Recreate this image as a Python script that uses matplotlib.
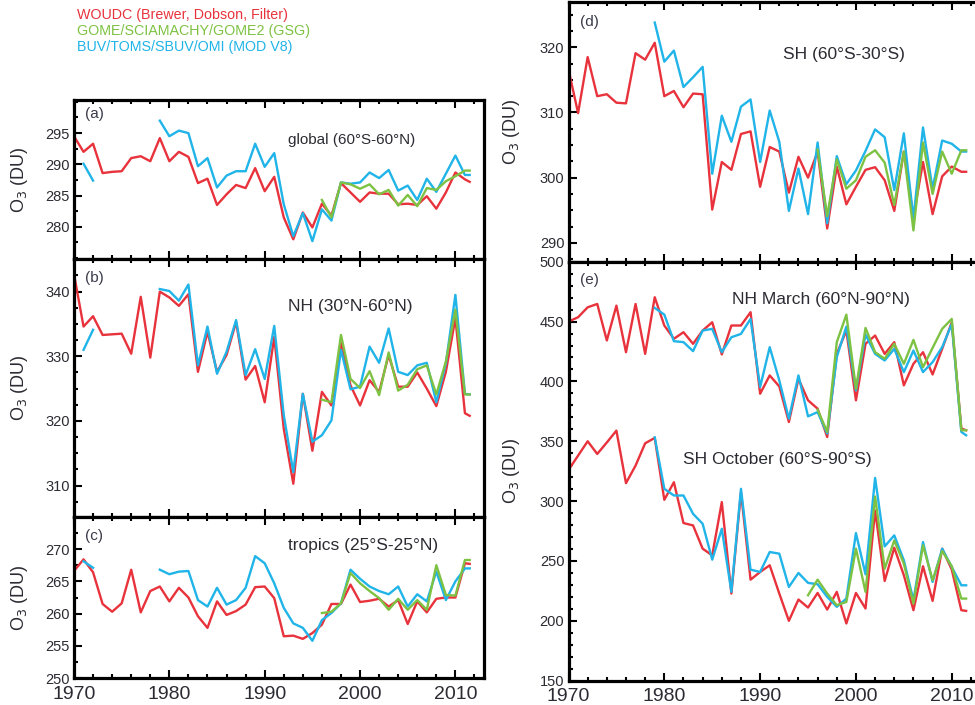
import matplotlib
matplotlib.use("Agg")
import matplotlib.pyplot as plt
import numpy as np
from matplotlib.ticker import MultipleLocator

plt.rcParams['font.family'] = ['Liberation Sans', 'DejaVu Sans']

nan = np.nan
years = np.append(np.arange(1970, 2012), 2011.5)

# (a) global 60S-60N
glob_woudc = [294.5, 292, 293.3, 288.6, 288.8, 288.9, 291, 291.3, 290.5, 294.2,
              290.5, 292, 291.2, 287, 287.7, 283.5, 285.2, 286.7, 286.2, 289.4,
              285.7, 288, 281.5, 278, 282.3, 279.9, 283.7, 281.8, 287, 285.5,
              284, 285.5, 285.3, 285.3, 283.6, 283.7, 283.5, 284.9, 282.9, 285.5,
              288.7, 287.6, 287.2]
glob_sbuv = [nan, 290.1, 287.4, nan, nan, nan, nan, nan, nan, 297,
             294.5, 295.4, 295, 289.7, 291, 286.3, 288.2, 288.9, 288.9, 293.3,
             289.6, 291.8, 283.6, 278.5, 282.2, 277.7, 282.8, 281, 287.1, 286.9,
             287.1, 288.7, 287.8, 289.1, 285.8, 286.6, 284.3, 287.7, 285.6, 288.5,
             291.4, 288.3, 288.3]
glob_gsg = [nan] * 26 + [284.3, 281.5, 287.1, 286.8,
                         286.1, 286.8, 285.2, 285.9, 283.4, 285.1, 283.3, 286.2, 285.9, 287.3,
                         288.1, 289, 289]

# (b) NH 30N-60N
nh_woudc = [342.7, 334.6, 336.2, 333.3, 333.4, 333.5, 330.4, 339.2, 329.8, 340,
            339.1, 337.8, 339.6, 327.6, 333.8, 327.6, 330.2, 335.3, 326.4, 328.5,
            322.9, 333, 318.8, 310.3, 324.2, 315.4, 324.5, 322.4, 332, 325.5,
            322.4, 326.3, 324.5, 330.2, 325.3, 325.3, 327.5, 325, 322.3, 327.6,
            335.9, 321.2, 320.8]
nh_sbuv = [nan, 331, 334.1, nan, nan, nan, nan, nan, nan, 340.4,
           340.1, 338.6, 341.1, 328.6, 334.6, 327.3, 330.7, 335.6, 327.1, 331.1,
           326.5, 334.7, 320.9, 312.1, 324.2, 316.8, 317.8, 320.1, 331, 324.9,
           325.3, 331.5, 329, 334.3, 327.6, 327.1, 328.6, 329, 322.9, 328.9,
           339.5, 324.2, 324.1]
nh_gsg = [nan] * 26 + [323.3, 322.9, 333.3, 326.5,
                       325.1, 327.7, 324, 330.6, 324.7, 325.6, 328, 328.6, 324.1, 329.2,
                       337.2, 324.1, 324.1]

# (c) tropics 25S-25N
tr_woudc = [266.6, 268.4, 266.4, 261.5, 260.3, 261.6, 266.8, 260.2, 263.5, 264.2,
            261.9, 264, 262.5, 259.6, 257.8, 261.9, 259.8, 260.4, 261.4, 264.1,
            264.2, 262.4, 256.5, 256.6, 256.1, 257, 258.3, 261.5, 261.5, 264.5,
            261.8, 262, 262.3, 261.1, 262.1, 258.4, 261.9, 260.2, 262.3, 262.5,
            262.5, 267.8, 267.7]
tr_sbuv = [nan, 268.1, 267.1, nan, nan, nan, nan, nan, nan, 266.8,
           266.1, 266.5, 266.6, 262.1, 261.1, 264, 261.4, 262.1, 264, 268.9,
           267.8, 264.7, 260.9, 258.5, 257.8, 255.8, 259, 260.1, 261.6, 266.8,
           265.4, 264.2, 263.5, 263, 264.2, 261.1, 263, 261.9, 266.5, 262.1,
           265, 267, 267]
tr_gsg = [nan] * 26 + [260.1, 260.3, 261.6, 266.3,
                       264.7, 263.5, 262.4, 260.6, 262.3, 260.6, 262.1, 260.6, 267.5, 262.9,
                       262.8, 268.3, 268.3]

# (d) SH 60S-30S
sh_woudc = [316.6, 309.9, 318.5, 312.5, 312.8, 311.5, 311.4, 319.1, 318.1, 320.7,
            312.5, 313.3, 310.8, 312.9, 312.8, 295.1, 302.4, 301.2, 306.7, 307.1,
            298.6, 304.7, 304, 297.7, 303.2, 300, 304, 292.2, 301.7, 295.9,
            298.6, 301.2, 301.6, 299.6, 294.9, 304, 294, 302.4, 294.4, 300.2,
            301.7, 300.9, 300.9]
sh_sbuv = [nan, nan, nan, nan, nan, nan, nan, nan, nan, 323.8,
           317.8, 319.5, 313.9, 315.4, 317, 300.6, 309.5, 305.5, 310.9, 312,
           302.4, 310.3, 305.5, 294.9, 301.4, 294.4, 305.4, 293, 303.3, 299,
           301.1, 304.1, 307.4, 306.2, 298.1, 306.8, 293.7, 307.7, 298.3, 305.7,
           305.2, 304, 304]
sh_gsg = [nan] * 26 + [304.3, 294.1, 302.8, 298.3,
                       299.6, 303.2, 304.2, 302.3, 295.8, 304, 291.9, 305.4, 297.5, 304,
                       300.6, 304.2, 304.2]

# (e) NH March 60N-90N
mar_woudc = [450, 453.6, 461.9, 464.7, 434.2, 463.3, 424.4, 464.7, 423, 470.3,
             446.7, 435.6, 441.1, 431.4, 442.5, 449.4, 422.5, 446.7, 446.7, 457.8,
             389.7, 405, 395.8, 366.1, 402.2, 384.2, 377.2, 353.6, 423, 442.5,
             384.2, 431.4, 438.3, 423, 432.8, 396.7, 414.7, 424.4, 405.8, 427.2,
             449.4, 360.6, 359.2]
mar_sbuv = [nan, nan, nan, nan, nan, nan, nan, nan, nan, 461.4,
            455.8, 433.6, 432.8, 425.3, 442.5, 443.9, 424.4, 436.9, 439.7, 452.2,
            395.3, 428.6, 400.8, 368.9, 405, 370.8, 374.4, 356.4, 420.3, 445.8,
            392.5, 439.2, 423, 417.5, 427.2, 407.8, 425.8, 407.8, 416.1, 428.6,
            448, 357.8, 355]
mar_gsg = [nan] * 26 + [376.4, 357.8, 432.8, 455.8,
                        393.9, 444.7, 424.4, 418.9, 431.4, 414.7, 434.7, 411.9, 428, 443.9,
                        452.2, 359.2, 359.2]

# (e) SH October 60S-90S
oct_woudc = [326.1, 338, 350, 339.4, 349, 358.9, 315, 329.7, 348.3, 352.8,
             301.1, 315.8, 281.7, 279.7, 260.3, 254.7, 299.2, 222.8, 307.5, 234.4,
             240.8, 246.4, 222.8, 200, 217.8, 211.1, 223.3, 209.4, 224.2, 197.8,
             223.3, 210.3, 292.2, 233.3, 261.1, 238.1, 208.9, 245.6, 216.7, 260.3,
             242.8, 208.9, 208.3]
oct_sbuv = [nan, nan, nan, nan, nan, nan, nan, nan, nan, 353.3,
            310.3, 304.7, 304.7, 289.4, 281.1, 251.1, 276.9, 224.2, 310.3, 242.8,
            240.8, 257.5, 256.1, 228.3, 240, 231.7, 230.6, 220, 211.7, 218.6,
            273.3, 238.9, 319.4, 262.2, 271.4, 250.6, 217.2, 265.8, 232.5, 260.3,
            245, 229.7, 229.7]
oct_gsg = [nan] * 25 + [221.4, 234.4, 222.8, 213.1, 215.8,
                        260.3, 224.2, 303.9, 243.6, 267.2, 247.8, 214.4, 263.1, 233.9, 258.3,
                        245.6, 218.6, 218.6]

RED = '#e8323c'
GREEN = '#7dc243'
BLUE = '#20b4e8'
TXT = '#2b2b33'
legend_labels = ['WOUDC (Brewer, Dobson, Filter)',
                 'GOME/SCIAMACHY/GOME2 (GSG)',
                 'BUV/TOMS/SBUV/OMI (MOD V8)']

W, H = 975, 705
fig = plt.figure(figsize=(W / 100, H / 100), dpi=100)


def make_ax(left, top, right, bottom):
    return fig.add_axes([left / W, 1 - bottom / H, (right - left) / W, (bottom - top) / H])


def style(ax, ylim, yticks, yminor, xlabels, lab_x):
    ax.set_xlim(1970, 2013)
    ax.set_ylim(*ylim)
    ax.set_yticks(yticks)
    ax.yaxis.set_minor_locator(MultipleLocator(yminor))
    ax.set_xticks([1970, 1980, 1990, 2000, 2010])
    ax.xaxis.set_minor_locator(MultipleLocator(2))
    ax.tick_params(which='both', direction='in', top=True, right=False, width=1.5,
                   colors='black', labelcolor=TXT)
    ax.tick_params(which='major', length=5.5)
    ax.tick_params(which='minor', length=2.8)
    ax.tick_params(axis='y', labelsize=10.5, pad=3)
    ax.tick_params(axis='x', labelsize=14, pad=5.5)
    if not xlabels:
        ax.tick_params(axis='x', labelbottom=False)
    for sp in ax.spines.values():
        sp.set_linewidth(2.3)
    ax.set_ylabel('O$_3$ (DU)', fontsize=13, color=TXT)
    ax.yaxis.set_label_coords(lab_x, 0.5)


def draw(ax, woudc, sbuv, gsg):
    ax.plot(years, woudc, color=RED, lw=1.7)
    ax.plot(years, sbuv, color=BLUE, lw=1.7)
    ax.plot(years, gsg, color=GREEN, lw=1.7)


# left column
ax_a = make_ax(74, 100, 484, 259.3)
ax_b = make_ax(74, 259.3, 484, 516.7)
ax_c = make_ax(74, 516.7, 484, 678.3)
# right column
ax_d = make_ax(568.5, 1.7, 980.5, 261.7)
ax_e = make_ax(568.5, 261.7, 980.5, 680.7)

draw(ax_a, glob_woudc, glob_sbuv, glob_gsg)
draw(ax_b, nh_woudc, nh_sbuv, nh_gsg)
draw(ax_c, tr_woudc, tr_sbuv, tr_gsg)
draw(ax_d, sh_woudc, sh_sbuv, sh_gsg)
draw(ax_e, mar_woudc, mar_sbuv, mar_gsg)
draw(ax_e, oct_woudc, oct_sbuv, oct_gsg)

style(ax_a, (274.8, 300.3), [280, 285, 290, 295], 2.5, False, -0.108)
style(ax_b, (305.2, 345), [310, 320, 330, 340], 2.5, False, -0.108)
style(ax_c, (250, 275), [250, 255, 260, 265, 270], 2.5, True, -0.108)
style(ax_d, (287.1, 327), [290, 300, 310, 320], 2.5, False, -0.113)
style(ax_e, (150, 500), [150, 200, 250, 300, 350, 400, 450, 500], 10, True, -0.113)

# region names
ax_a.text(0.522, 0.749, 'global (60°S-60°N)', transform=ax_a.transAxes, fontsize=11, color=TXT, va='center')
ax_b.text(0.522, 0.816, 'NH (30°N-60°N)', transform=ax_b.transAxes, fontsize=12.5, color=TXT, va='center')
ax_c.text(0.522, 0.824, 'tropics (25°S-25°N)', transform=ax_c.transAxes, fontsize=12.5, color=TXT, va='center')
ax_d.text(0.521, 0.795, 'SH (60°S-30°S)', transform=ax_d.transAxes, fontsize=12.5, color=TXT, va='center')
ax_e.text(0.396, 0.909, 'NH March (60°N-90°N)', transform=ax_e.transAxes, fontsize=12.5, color=TXT, va='center')
ax_e.text(0.278, 0.528, 'SH October (60°S-90°S)', transform=ax_e.transAxes, fontsize=12.5, color=TXT, va='center')

# panel letters
for ax, lab, y in [(ax_a, '(a)', 0.912), (ax_b, '(b)', 0.928), (ax_c, '(c)', 0.881),
                   (ax_d, '(d)', 0.923), (ax_e, '(e)', 0.956)]:
    ax.text(0.027, y, lab, transform=ax.transAxes, fontsize=11, color='#3a3a4a', va='center')

# colour-coded legend text
for lab, col, y in zip(legend_labels, [RED, GREEN, BLUE], [15, 31, 46.5]):
    fig.text(77 / W, 1 - y / H, lab, color=col, fontsize=10.3, va='center')

plt.savefig('out.png', dpi=100)
